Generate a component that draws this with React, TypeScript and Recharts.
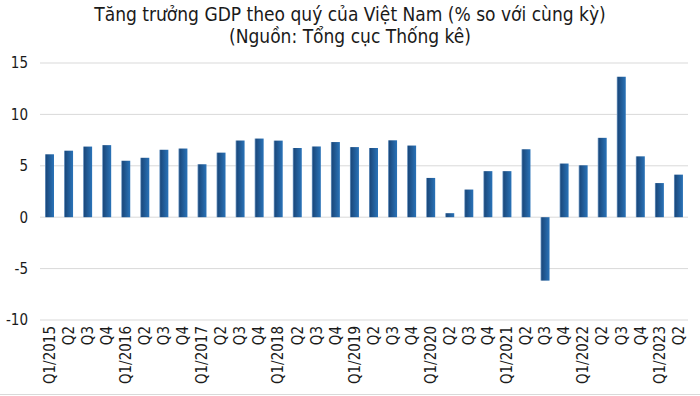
import { BarChart, Bar, XAxis, YAxis, CartesianGrid } from "recharts";

const quarters = [
  "Q1/2015", "Q2", "Q3", "Q4",
  "Q1/2016", "Q2", "Q3", "Q4",
  "Q1/2017", "Q2", "Q3", "Q4",
  "Q1/2018", "Q2", "Q3", "Q4",
  "Q1/2019", "Q2", "Q3", "Q4",
  "Q1/2020", "Q2", "Q3", "Q4",
  "Q1/2021", "Q2", "Q3", "Q4",
  "Q1/2022", "Q2", "Q3", "Q4",
  "Q1/2023", "Q2",
];

const growth = [
  6.12, 6.47, 6.87, 7.01,
  5.48, 5.78, 6.56, 6.68,
  5.15, 6.28, 7.46, 7.65,
  7.45, 6.73, 6.88, 7.31,
  6.82, 6.73, 7.48, 6.97,
  3.82, 0.39, 2.69, 4.48,
  4.48, 6.61, -6.17, 5.22,
  5.05, 7.72, 13.67, 5.92,
  3.32, 4.14,
];

const yTicks = [-10, -5, 0, 5, 10, 15];

const FONT = "'DejaVu Sans Condensed', 'DejaVu Sans', sans-serif";

const data = quarters.map((q, i) => ({ id: i, q, v: growth[i] }));

function QuarterTick(props: any) {
  const { x, y, payload } = props;
  return (
    <text
      x={x}
      y={y}
      transform={`rotate(-90, ${x}, ${y})`}
      textAnchor="end"
      dy="0.35em"
      fontSize={15}
      fontFamily={FONT}
      fill="#1a1a1a"
    >
      {quarters[payload.value]}
    </text>
  );
}

export default function App() {
  return (
    <div style={{ position: "absolute", left: 0, top: 0, width: 700, height: 396, background: "#fff", fontFamily: FONT }}>
      <div style={{ position: "absolute", top: 3, left: 0, width: 700, textAlign: "center", fontSize: 19, lineHeight: "22px", color: "#1a1a1a" }}>
        Tăng trưởng GDP theo quý của Việt Nam (% so với cùng kỳ)
        <br />
        (Nguồn: Tổng cục Thống kê)
      </div>
      <div style={{ position: "absolute", left: 0, top: 394, width: 700, height: 1, background: "#d9d9d9" }} />
      <BarChart
        width={700}
        height={396}
        data={data}
        margin={{ top: 63, right: 12, bottom: 0, left: 0 }}
        barSize={9}
      >
        <defs>
          <linearGradient id="barGrad" x1="0" y1="0" x2="1" y2="0">
            <stop offset="0%" stopColor="#7fa6cf" />
            <stop offset="15%" stopColor="#1b4a7e" />
            <stop offset="100%" stopColor="#2a73b8" />
          </linearGradient>
        </defs>
        <CartesianGrid horizontal vertical={false} stroke="#d9d9d9" />
        <XAxis
          dataKey="id"
          type="category"
          interval={0}
          axisLine={false}
          tickLine={false}
          tickSize={0}
          tickMargin={6}
          height={76}
          tick={<QuarterTick />}
        />
        <YAxis
          domain={[-10, 15]}
          ticks={yTicks}
          axisLine={false}
          tickLine={false}
          tickSize={0}
          tickMargin={12}
          width={40}
          tick={{ fontSize: 15, fontFamily: FONT, fill: "#1a1a1a" }}
        />
        <Bar dataKey="v" fill="url(#barGrad)" isAnimationActive={false} />
      </BarChart>
    </div>
  );
}
